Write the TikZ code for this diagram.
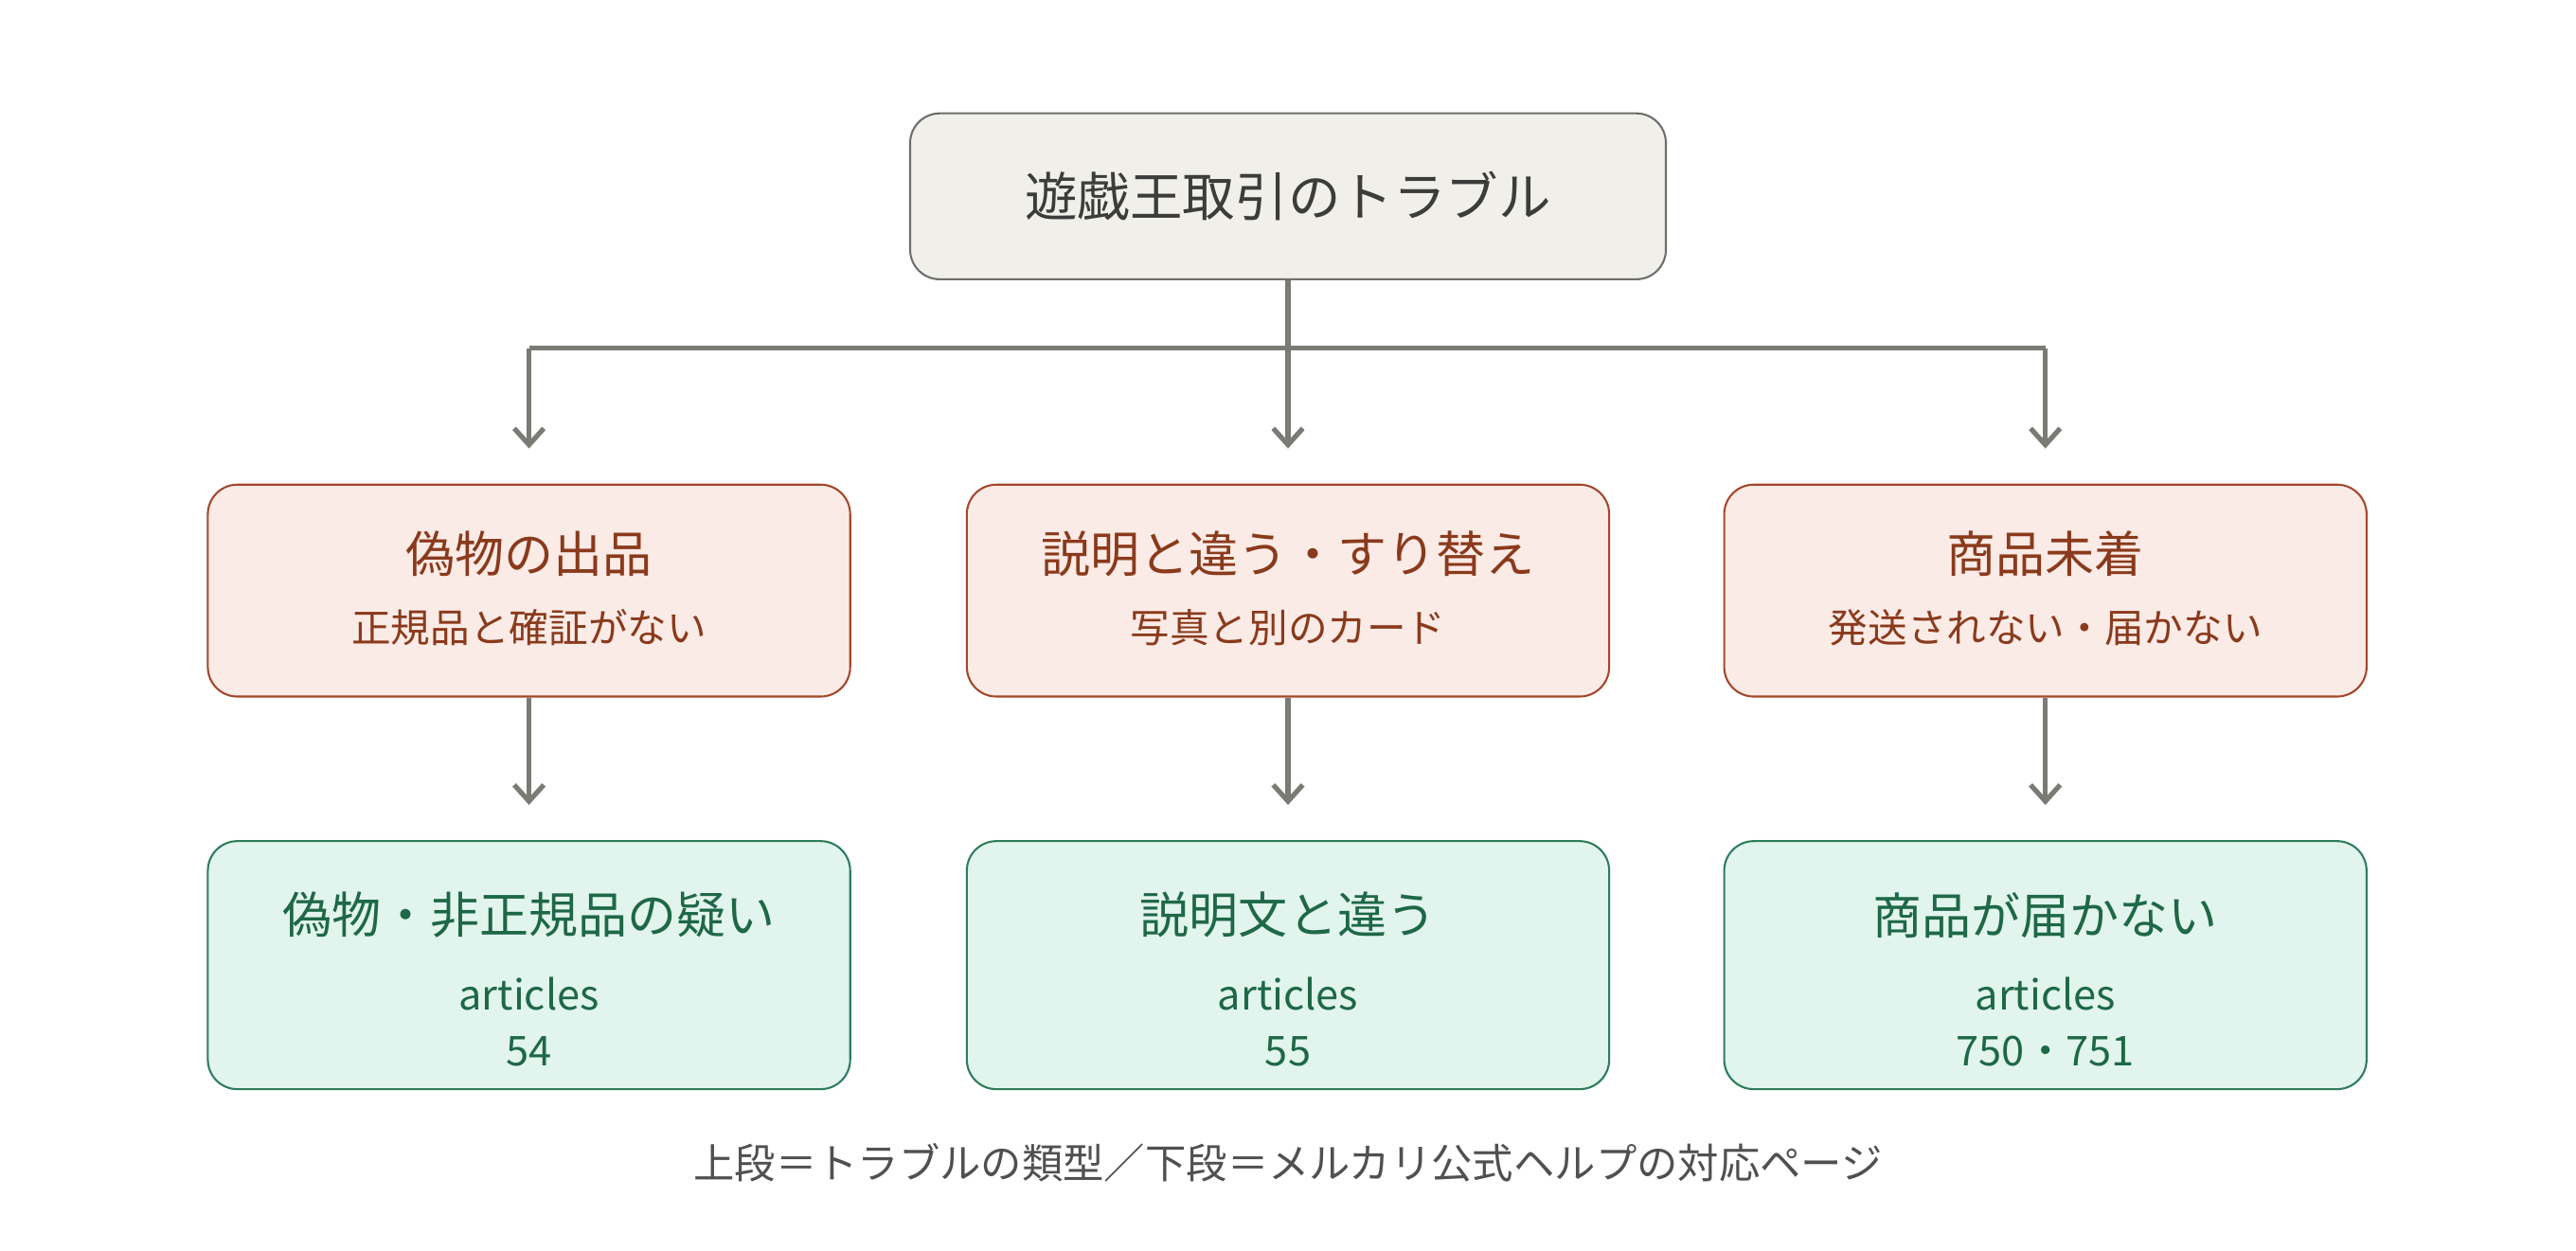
\documentclass[tikz,border=0pt]{standalone}
\usepackage{fontspec}
\setmainfont{Noto Sans CJK JP}
\usetikzlibrary{arrows.meta}
\definecolor{topf}{HTML}{F0EFEA}\definecolor{topd}{HTML}{6E6E6A}
\definecolor{redf}{HTML}{FBEBE6}\definecolor{redd}{HTML}{A4472C}\definecolor{redt}{HTML}{8A3A1C}
\definecolor{grnf}{HTML}{E2F4EE}\definecolor{grnd}{HTML}{2E7D5B}\definecolor{grnt}{HTML}{1E6847}
\definecolor{arr}{HTML}{7B7B75}\definecolor{txt}{HTML}{3C3C3A}
\begin{document}
\begin{tikzpicture}[x=0.5pt,y=-0.5pt,
 box/.style={draw,rounded corners=9pt,line width=0.6pt},
 top/.style={box,fill=topf,draw=topd},
 red/.style={box,fill=redf,draw=redd},
 grn/.style={box,fill=grnf,draw=grnd},
 ar/.style={draw=arr,line width=1.5pt,-{Straight Barb[length=5pt,width=9pt]}},
 ln/.style={draw=arr,line width=1.5pt}]
\useasboundingbox (0,0) rectangle (1568,761);
\fill[white] (0,0) rectangle (1568,761);
\node[top,minimum width=230pt,minimum height=50.5pt] (t) at (784,119.5) {};
\node[text=txt,font=\fontsize{16}{18}\selectfont] (tt) at (784,119.5) {遊戯王取引のトラブル};
\foreach \n/\x/\a/\b/\c/\d/\e in {1/322/偽物の出品/正規品と確証がない/偽物・非正規品の疑い/articles/54/商品の報告も併用,
 2/784/説明と違う・すり替え/写真と別のカード/説明文と違う/articles/55/壊れている場合も同じ,
 3/1245/商品未着/発送されない・届かない/商品が届かない/articles/750・751/未発送は49}{
 \node[red,minimum width=195.5pt,minimum height=64.5pt] (m\n) at (\x,359.5) {};
 \node[text=redt,font=\fontsize{15}{17}\selectfont] (ma\n) at (\x,337) {\a};
 \node[text=redt,font=\fontsize{12}{14}\selectfont] (mb\n) at (\x,382) {\b};
 \node[grn,minimum width=195.5pt,minimum height=75.5pt] (b\n) at (\x,587.5) {};
 \node[text=grnt,font=\fontsize{15}{17}\selectfont] (ba\n) at (\x,557) {\c};
 \node[text=grnt,font=\fontsize{12.5}{14}\selectfont] (bb\n) at (\x,605) {\d};
 \node[text=grnt,font=\fontsize{12.5}{14}\selectfont] (bc\n) at (\x,640) {\e};
 \coordinate (j\n) at (\x,212);
 \coordinate (e\n) at (\x,273);
 \coordinate (f\n) at (\x,490);
 \draw[ar] (j\n) -- (e\n);
 \draw[ar] (m\n.south) -- (f\n);
}
\draw[ln] (j1) -- (j3);
\draw[ln] (t.south) -- (j2);
\node[text=txt!90,font=\fontsize{12.5}{14}\selectfont] (cap) at (784,708) {上段＝トラブルの類型／下段＝メルカリ公式ヘルプの対応ページ};
\end{tikzpicture}
\end{document}
